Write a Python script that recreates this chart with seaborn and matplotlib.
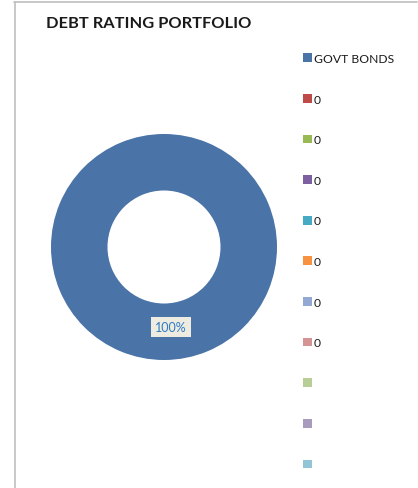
import matplotlib
matplotlib.use("Agg")
import matplotlib.pyplot as plt
import seaborn as sns
from matplotlib.patches import Patch
from matplotlib.lines import Line2D

sns.set_theme(style="white")
plt.rcParams['font.family'] = ['Lato', 'DejaVu Sans']

title = "DEBT RATING PORTFOLIO"
categories = ["GOVT BONDS", "0", "0", "0", "0", "0", "0", "0", "", "", ""]
values = [100, 0, 0, 0, 0, 0, 0, 0, 0, 0, 0]
colors = ["#4A73A8", "#BE4B48", "#98B954", "#7D60A0", "#46AAC5", "#F69240",
          "#93A9D4", "#D59493", "#B9CD96", "#A99BBD", "#92C6D6"]

W, H = 418, 489
fig = plt.figure(figsize=(W / 100, H / 100), dpi=100)
fig.patch.set_facecolor("white")

# frame lines (chart border, partially visible)
fig.add_artist(Line2D([14 / W, 417 / W], [1 - 2.5 / H, 1 - 2.5 / H], color="#BFBFBF", lw=1.2))
fig.add_artist(Line2D([14.5 / W, 14.5 / W], [0, 1 - 2.5 / H], color="#BFBFBF", lw=1.2))

# donut axes
cx, cy, r = 164, 248, 113
ax = fig.add_axes([(cx - r) / W, 1 - (cy + r) / H, 2 * r / W, 2 * r / H])

nz = [(v, c) for v, c in zip(values, colors) if v > 0]
wedges, texts, autotexts = ax.pie(
    [v for v, _ in nz], colors=[c for _, c in nz], radius=1,
    startangle=95, counterclock=False,
    wedgeprops=dict(width=0.5, edgecolor="white", linewidth=0),
    autopct=lambda p: f"{p:.0f}%", pctdistance=0.71,
    textprops=dict(color="#2E7BC4", fontsize=9))
for t in autotexts:
    t.set_bbox(dict(boxstyle="square,pad=0.35", facecolor="#EEECE1", edgecolor="none"))
ax.set_xlim(-1, 1)
ax.set_ylim(-1, 1)
ax.set_aspect("equal")
ax.axis("off")

fig.text(46 / W, 1 - 24 / H, title, fontsize=11.8, fontweight="bold", color="#1a1a1a",
         ha="left", va="center")

handles = [Patch(facecolor=c, edgecolor="none") for c in colors]
leg = fig.legend(handles, categories, loc="upper left",
                 bbox_to_anchor=(303 / W, 1 - 54 / H), frameon=False,
                 fontsize=8.7, handlelength=0.72, handleheight=0.72,
                 handletextpad=0.2, labelspacing=2.45, borderpad=0, borderaxespad=0)
for t in leg.get_texts():
    t.set_color("#1a1a1a")

fig.savefig("out.png", dpi=100, facecolor="white")
